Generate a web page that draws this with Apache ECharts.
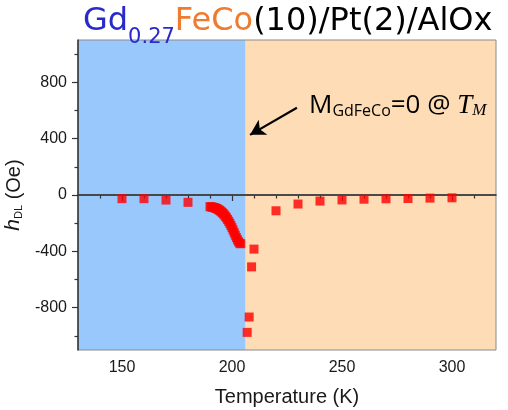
<!DOCTYPE html>
<html>
<head>
<meta charset="utf-8">
<script src="https://cdn.jsdelivr.net/npm/echarts@6/dist/echarts.min.js"></script>
<style>
html, body { margin: 0; padding: 0; background: #fff; }
#chart { width: 508px; height: 410px; }
</style>
</head>
<body>
<div id="chart"></div>
<script>
// Damping-like field h_DL versus temperature for Gd0.27FeCo(10)/Pt(2)/AlOx
const temperatures = [
  150, 160, 170, 180,
  190, 190.5, 191, 191.5, 192, 192.5, 193, 193.5, 194, 194.5,
  195, 195.5, 196, 196.5, 197, 197.5, 198, 198.5, 199, 199.5,
  200, 200.5, 201, 201.5, 202, 202.5, 203, 203.5, 204,
  206.9, 207.8, 208.9, 210,
  220, 230, 240, 250, 260, 270, 280, 290, 300
];
const hDL = [
  -26, -26, -36, -52,
  -83, -84, -86, -88, -90, -93, -96, -100, -105, -110,
  -117, -124, -132, -141, -151, -162, -174, -187, -201, -216,
  -232, -249, -267, -285, -302, -318, -332, -342, -346,
  -975, -866, -510, -384,
  -112, -64, -43, -35, -30, -27, -25, -22, -20
];

// compensation temperature separating the two shaded regions
const compensationT = 206.2;
const xRange = [130, 320];
const yRange = [-1100, 1100];
const xMajorTicks = [150, 200, 250, 300];
const xMinorTicks = [140, 160, 170, 180, 190, 210, 220, 230, 240, 260, 270, 280, 290, 310];
const yMajorTicks = [-800, -400, 0, 400, 800];
const yMinorTicks = [-1000, -600, -200, 200, 600, 1000];

const points = temperatures.map((t, i) => [t, hDL[i]]);

const chart = echarts.init(document.getElementById('chart'), null, { renderer: 'canvas' });

const tickFont = { fontFamily: 'Liberation Sans', fontSize: 16, color: '#1a1a1a' };
const axisColor = '#333';

function xAxisDef(ticks, len, labels, name) {
  return {
    type: 'value', min: xRange[0], max: xRange[1], position: 'bottom',
    axisLine: { show: labels, lineStyle: { color: axisColor, width: 1.5 } },
    axisTick: { show: true, customValues: ticks, length: len, inside: false,
                lineStyle: { color: axisColor, width: 1.2 } },
    axisLabel: labels ? Object.assign({ customValues: xMajorTicks, margin: 10 }, tickFont) : { show: false },
    splitLine: { show: false },
    name: name || '', nameLocation: 'middle', nameGap: 37,
    nameTextStyle: { fontFamily: 'Liberation Sans', fontSize: 20, color: '#1a1a1a' }
  };
}
function yAxisDef(ticks, len, labels, withName) {
  return {
    type: 'value', min: yRange[0], max: yRange[1], position: 'left',
    axisLine: { show: labels, lineStyle: { color: axisColor, width: 1.5 } },
    axisTick: { show: true, customValues: ticks, length: len, inside: false,
                lineStyle: { color: axisColor, width: 1.2 } },
    axisLabel: labels ? Object.assign({ customValues: yMajorTicks, margin: 11 }, tickFont) : { show: false },
    splitLine: { show: false },
    name: withName ? '{i|h}{s|DL}{n| (Oe)}' : '',
    nameLocation: 'middle', nameRotate: 90, nameGap: 48,
    nameTextStyle: {
      fontFamily: 'Liberation Sans', fontSize: 19, color: '#1a1a1a',
      rich: {
        i: { fontFamily: 'Liberation Sans', fontStyle: 'italic', fontSize: 21, color: '#1a1a1a', verticalAlign: 'bottom', lineHeight: 26 },
        s: { fontFamily: 'Liberation Sans', fontSize: 11, color: '#1a1a1a', verticalAlign: 'bottom', lineHeight: 12 },
        n: { fontFamily: 'Liberation Sans', fontSize: 20, color: '#1a1a1a', verticalAlign: 'bottom', lineHeight: 26 }
      }
    }
  };
}

const titleMain = { fontFamily: 'DejaVu Sans', fontWeight: 'normal', fontSize: 32, verticalAlign: 'top', lineHeight: 40 };

chart.setOption({
  animation: false,
  backgroundColor: '#ffffff',
  title: {
    text: '{b|Gd}{bs|0.27}{o|FeCo}{k|(10)/Pt(2)/AlOx}',
    left: 78, top: 1,
    textStyle: {
      fontWeight: 'normal',
      rich: {
        b: Object.assign({ color: '#2a2acb' }, titleMain),
        bs: { fontFamily: 'DejaVu Sans', fontWeight: 'normal', fontSize: 21, color: '#2a2acb',
              verticalAlign: 'top', lineHeight: 20, padding: [21, 0, 0, 0] },
        o: Object.assign({ color: '#ee7b30' }, titleMain),
        k: Object.assign({ color: '#000000' }, titleMain)
      }
    }
  },
  grid: {
    left: 78, right: 12, top: 40, bottom: 60,
    outerBoundsMode: 'none',
    show: true, borderColor: '#8a8a8a', borderWidth: 1, backgroundColor: 'transparent'
  },
  xAxis: [
    xAxisDef(xMajorTicks, 6, true, 'Temperature (K)'),
    xAxisDef(xMinorTicks, 3.5, false)
  ],
  yAxis: [
    yAxisDef(yMajorTicks, 6, true, true),
    yAxisDef(yMinorTicks, 3.5, false, false)
  ],
  series: [
    {
      name: 'hDL',
      type: 'scatter',
      data: points,
      symbol: 'rect',
      symbolSize: 9,
      itemStyle: { color: '#ff0000' },
      z: 5,
      markArea: {
        silent: true,
        z: -1,
        data: [
          [{ xAxis: xRange[0], yAxis: yRange[0], itemStyle: { color: '#99c8fd' } }, { xAxis: compensationT, yAxis: yRange[1] }],
          [{ xAxis: compensationT, yAxis: yRange[0], itemStyle: { color: '#fddcb6' } }, { xAxis: xRange[1], yAxis: yRange[1] }]
        ]
      },
      markLine: {
        silent: true,
        animation: false,
        data: [
          [
            { coord: [xRange[0], 0], symbol: 'none', lineStyle: { color: '#444', width: 1.6, type: 'solid' } },
            { coord: [xRange[1], 0], symbol: 'none' }
          ],
          [
            { coord: [229.5, 619], symbol: 'none', lineStyle: { color: '#000', width: 2.2, type: 'solid' } },
            { coord: [208.2, 427], symbol: 'arrow', symbolSize: [13, 15] }
          ]
        ],
        label: { show: false }
      },
      markPoint: {
        silent: true,
        symbol: 'rect', symbolSize: 0,
        data: [{ coord: [235, 660] }],
        label: {
          show: true, position: 'right', distance: 0,
          formatter: '{m|M}{s|GdFeCo}{m|=0 @ }{t|T}{ts|M}',
          rich: {
            m: { fontFamily: 'Open Sans', fontSize: 26, color: '#000', verticalAlign: 'bottom', lineHeight: 34 },
            s: { fontFamily: 'Open Sans', fontSize: 16, color: '#000', verticalAlign: 'bottom', lineHeight: 22 },
            t: { fontFamily: 'Liberation Serif', fontStyle: 'italic', fontSize: 27, color: '#000', verticalAlign: 'bottom', lineHeight: 34 },
            ts: { fontFamily: 'Liberation Serif', fontStyle: 'italic', fontSize: 17, color: '#000', verticalAlign: 'bottom', lineHeight: 24 }
          }
        }
      }
    }
  ]
});
</script>
</body>
</html>
